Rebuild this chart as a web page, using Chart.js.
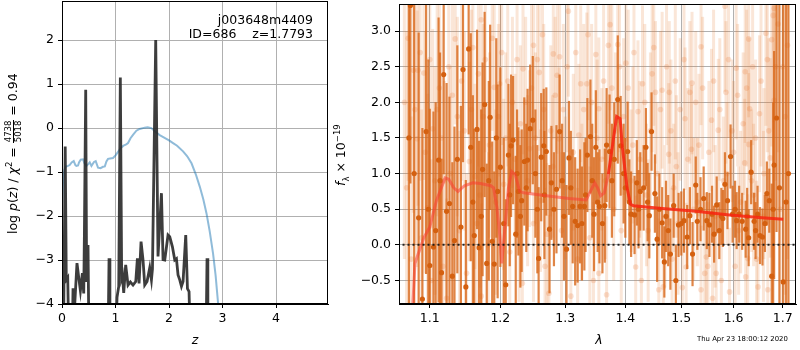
<!DOCTYPE html>
<html>
<head>
<meta charset="utf-8">
<script src="https://cdn.jsdelivr.net/npm/chart.js@4.4.1/dist/chart.umd.min.js"></script>
<style>
  body { margin: 0; background: #fff; font-family: 'DejaVu Sans', sans-serif; }
  #wrap { position: relative; width: 800px; height: 350px; overflow: hidden; }
  #pz { position: absolute; left: 0; top: 0; }
  #spek { position: absolute; left: 330px; top: 0; }
  .lbl { position: absolute; white-space: pre; font-size: 12.5px; line-height: 1; color: #000; }
  .mitte { transform: translate(-50%, -50%); }
  .rot { transform: rotate(-90deg); transform-origin: 0 0; }
  .frac { display: inline-block; vertical-align: middle; text-align: center; font-size: 8.5px; line-height: 1.05; }
  .frac span { display: block; padding: 0 1px; }
  .frac span:first-child { border-bottom: 1px solid #000; }
  sup, sub { font-size: 8.5px; line-height: 0; }
</style>
</head>
<body>
<div id="wrap">
  <canvas id="pz" width="330" height="350"></canvas>
  <canvas id="spek" width="470" height="350"></canvas>
  <div class="lbl" style="right:487px;top:14px">j003648m4409</div>
  <div class="lbl" style="right:487px;top:28px">ID=686    z=1.7793</div>
  <div class="lbl rot" data-cx="13" data-cy="153">log <i>p</i>(<i>z</i>) / <i>χ</i><sup>2</sup> = <span class="frac"><span>4738</span><span>5018</span></span> = 0.94</div>
  <div class="lbl mitte" style="left:195px;top:340px"><i>z</i></div>
  <div class="lbl rot" data-cx="341" data-cy="155"><i>f</i><sub>λ</sub> × 10<sup>−19</sup></div>
  <div class="lbl mitte" style="left:599px;top:340px"><i>λ</i></div>
  <div class="lbl" style="left:697px;top:336px;font-size:6.9px">Thu Apr 23 18:00:12 2020</div>
</div>
<script>
// p(z) panel
const zPdf = [0, 0.012, 0.03, 0.06, 0.08, 0.107, 0.13, 0.19, 0.206, 0.225, 0.28, 0.318, 0.344, 0.381, 0.406, 0.418, 0.443, 0.46, 0.486, 0.505,
  0.86, 0.879, 0.895, 1.0, 1.028, 1.06, 1.09, 1.115, 1.129, 1.153, 1.19, 1.234, 1.278, 1.327, 1.378, 1.409, 1.44, 1.477, 1.514, 1.546,
  1.589, 1.639, 1.671, 1.69, 1.751, 1.794, 1.858, 1.888, 1.92, 1.981, 2.013, 2.063, 2.107, 2.138, 2.168, 2.2, 2.232, 2.262, 2.312, 2.344,
  2.374, 2.4, 2.69, 2.71, 2.725, 3.0];
const logPdf = [-5, -3.4, -4.5, -0.42, -3.45, -3.4, -5, -5, -3.64, -4.3, -3.07, -3.45, -3.7, -3.3, -3.76, -2.47, 0.87, -3.5, -2.66, -5,
  -5, -2.96, -5, -5, -3.85, -3.6, 1.15, -3.4, -3.34, -3.75, -3.11, -3.57, -3.5, -3.57, -3.49, -2.96, -3.53, -2.58, -3.0, -3.57,
  -3.49, -3.18, -3.45, -3.2, 2.0, -2.92, -1.48, -2.99, -3.0, -2.43, -2.47, -2.7, -3.0, -2.97, -3.34, -3.45, -3.6, -3.49, -2.43, -3.65,
  -3.72, -5, -5, -2.96, -5, -5];

const zChi = [0, 0.02, 0.045, 0.069, 0.11, 0.144, 0.18, 0.219, 0.25, 0.269, 0.3, 0.318, 0.35, 0.393, 0.42, 0.456, 0.49, 0.518, 0.55, 0.598,
  0.63, 0.673, 0.72, 0.766, 0.8, 0.83, 0.86, 0.9, 0.953, 1.0, 1.047, 1.1, 1.15, 1.2, 1.234, 1.28, 1.33, 1.39, 1.45, 1.546,
  1.6, 1.67, 1.75, 1.826, 1.9, 2.0, 2.075, 2.15, 2.262, 2.34, 2.42, 2.5, 2.574, 2.64, 2.7, 2.76, 2.822, 2.87, 2.916, 2.94];
const chiKurve = [-1.75, -1.2, -0.95, -0.88, -0.86, -0.84, -0.78, -0.75, -0.84, -0.86, -0.85, -0.78, -0.72, -0.71, -0.8, -0.86, -0.82, -0.78, -0.86, -0.77,
  -0.75, -0.9, -0.91, -0.88, -0.87, -0.76, -0.7, -0.69, -0.68, -0.62, -0.54, -0.45, -0.4, -0.37, -0.34, -0.23, -0.15, -0.06, -0.02, 0.01,
  0.02, 0.0, -0.09, -0.16, -0.21, -0.28, -0.34, -0.4, -0.53, -0.64, -0.8, -1.05, -1.33, -1.62, -1.94, -2.35, -2.85, -3.35, -3.98, -4.4];

const zTicks = [0, 1, 2, 3, 4];
const pzTicks = [-4, -3, -2, -1, 0, 1, 2];

// spectrum panel: measured points (solid)
const lamPunkte = [1.072, 1.074, 1.085, 1.090, 1.095, 1.100, 1.105, 1.108, 1.112, 1.116, 1.119, 1.123, 1.127, 1.131, 1.134, 1.143, 1.146, 1.150, 1.154, 1.157,
  1.162, 1.166, 1.169, 1.174, 1.177, 1.180, 1.185, 1.188, 1.191, 1.196, 1.200, 1.208, 1.212, 1.216, 1.219, 1.223, 1.227, 1.232, 1.236, 1.241,
  1.245, 1.249, 1.258, 1.262, 1.266, 1.270, 1.275, 1.278, 1.286, 1.291, 1.302, 1.306, 1.312, 1.316, 1.320, 1.324, 1.331, 1.336, 1.341, 1.347,
  1.350, 1.356, 1.361, 1.365, 1.368, 1.373, 1.387, 1.392, 1.404, 1.410, 1.416, 1.420, 1.426, 1.432, 1.436, 1.442, 1.446, 1.452, 1.456, 1.465,
  1.469, 1.476, 1.480, 1.486, 1.490, 1.495, 1.505, 1.511, 1.516, 1.521, 1.527, 1.530, 1.542, 1.548, 1.553, 1.558, 1.562, 1.567, 1.572, 1.579,
  1.583, 1.588, 1.594, 1.598, 1.606, 1.611, 1.617, 1.624, 1.630, 1.635, 1.641, 1.648, 1.653, 1.658, 1.663, 1.667, 1.672, 1.677, 1.682, 1.687,
  1.701, 1.712,
  1.079, 1.098, 1.114, 1.138, 1.160, 1.172, 1.183, 1.194, 1.205, 1.214, 1.225, 1.230, 1.239, 1.253, 1.256, 1.267, 1.282, 1.295, 1.298, 1.309,
  1.327, 1.333, 1.344, 1.353, 1.377, 1.381, 1.397, 1.400, 1.407, 1.423, 1.439, 1.460, 1.472, 1.500, 1.536, 1.576, 1.603, 1.627, 1.644, 1.680,
  1.693, 1.707];
const flussPunkte = [1.50, 3.36, 0.38, -0.76, 1.59, -0.29, -0.03, 0.20, 1.19, -0.39, 2.39, 0.47, 0.58, -0.44, 0.06, 0.25, 2.46, -0.59, 2.75, 1.37,
  0.13, 1.62, -0.04, 1.06, 1.97, -0.26, 1.79, 0.05, -0.27, 0.75, 1.09, -0.56, 1.26, 1.39, 1.47, 0.15, 0.75, 0.62, 1.17, 1.19,
  1.63, 1.75, -0.19, 1.23, 1.39, 1.31, 0.22, 0.87, 0.78, 1.59, -0.06, 1.22, 0.54, 0.33, 0.27, 0.54, 0.54, 1.26, 1.52, 0.43,
  1.37, 0.54, 0.30, 0.55, 1.40, 1.31, 2.04, 1.39, 1.31, 0.43, 0.42, 0.87, 0.75, 0.80, 1.37, 0.41, 1.59, 0.72, 0.08, 0.31,
  -0.24, 0.20, -0.13, 0.55, -0.50, 0.28, 0.34, 0.11, 0.41, -0.13, 0.84, 0.33, 0.65, 0.34, 0.28, 0.43, 0.15, 0.56, 0.20, 0.37,
  0.85, 0.62, 1.24, 0.43, 0.34, 0.43, 0.33, 0.22, 0.10, 1.02, 0.33, 0.43, 0.13, 0.11, 0.30, 0.72, 0.62, -0.44, 1.12, 1.78,
  -0.52, 1.0,
  1.0, 0.5, 0.9, 1.2, 0.6, 0.4, 0.9, 1.5, 0.3, 0.7, 1.0, 0.4, 0.8, 1.0, 0.5, 0.7, 0.5, 0.9, 0.4, 0.8,
  0.3, 0.7, 0.9, 0.6, 0.9, 1.2, 1.0, 0.8, 0.6, 0.5, 0.6, 0.5, 0.4, 0.3, 0.5, 0.4, 0.5, 0.4, 0.2, 0.5,
  0.8, 0.6];
const fehlerPunkte = [3.0, 2.5, 2.6, 2.4, 2.0, 2.2, 1.9, 1.8, 2.0, 1.6, 1.4, 1.8, 1.5, 1.6, 1.6, 1.7, 1.3, 1.5, 1.2, 1.6,
  1.5, 1.4, 1.5, 1.5, 1.3, 1.4, 1.3, 1.4, 1.3, 1.5, 1.4, 1.2, 1.0, 1.0, 0.9, 1.1, 0.9, 1.0, 0.9, 1.0,
  0.9, 0.9, 1.0, 0.9, 0.8, 0.9, 0.9, 0.8, 0.9, 0.8, 0.9, 0.8, 0.8, 0.9, 0.8, 0.8, 0.9, 0.8, 0.8, 0.8,
  0.8, 0.8, 0.7, 0.8, 0.8, 0.8, 0.9, 0.7, 0.7, 0.6, 0.55, 0.6, 0.55, 0.6, 0.55, 0.6, 0.55, 0.55, 0.6, 0.5,
  0.5, 0.5, 0.5, 0.45, 0.5, 0.45, 0.45, 0.45, 0.4, 0.45, 0.4, 0.4, 0.45, 0.4, 0.45, 0.4, 0.4, 0.4, 0.4, 0.4,
  0.45, 0.4, 0.45, 0.4, 0.4, 0.4, 0.4, 0.4, 0.4, 0.45, 0.4, 0.4, 0.4, 0.4, 0.4, 0.45, 0.45, 1.3, 1.6, 1.6,
  4.0, 4.5,
  2.7, 2.1, 1.8, 1.6, 1.5, 1.5, 1.4, 1.4, 1.2, 1.0, 0.9, 1.0, 0.9, 0.9, 0.9, 0.9, 0.8, 0.8, 0.9, 0.8,
  0.8, 0.8, 0.8, 0.7, 0.8, 0.8, 0.7, 0.7, 0.6, 0.55, 0.55, 0.5, 0.5, 0.45, 0.45, 0.4, 0.4, 0.4, 0.4, 1.5,
  3.0, 4.5];

// second exposure (faint)
const lamBlass = [1.078, 1.083, 1.084, 1.092, 1.097, 1.104, 1.110, 1.120, 1.123, 1.131, 1.135, 1.155, 1.160, 1.163, 1.166, 1.172, 1.172, 1.191, 1.199, 1.205,
  1.230, 1.233, 1.234, 1.244, 1.250, 1.250, 1.259, 1.261, 1.264, 1.271, 1.274, 1.280, 1.281, 1.287, 1.290, 1.291, 1.300, 1.305, 1.309, 1.320,
  1.322, 1.325, 1.335, 1.337, 1.340, 1.350, 1.355, 1.355, 1.360, 1.368, 1.371, 1.374, 1.380, 1.387, 1.401, 1.410, 1.418, 1.422, 1.430, 1.440,
  1.450, 1.453, 1.459, 1.465, 1.467, 1.470, 1.477, 1.478, 1.486, 1.491, 1.507, 1.509, 1.516, 1.519, 1.520, 1.530, 1.537, 1.537, 1.547, 1.550,
  1.557, 1.559, 1.566, 1.570, 1.580, 1.583, 1.585, 1.592, 1.600, 1.605, 1.610, 1.622, 1.623, 1.624, 1.628, 1.630, 1.630, 1.632, 1.640, 1.649,
  1.652, 1.660, 1.665, 1.669, 1.674, 1.677, 1.680, 1.682, 1.682, 1.700,
  1.066, 1.069, 1.071, 1.075, 1.080, 1.087, 1.089, 1.094, 1.100, 1.102, 1.107, 1.113, 1.116, 1.118, 1.126, 1.128, 1.138, 1.141, 1.144, 1.148,
  1.151, 1.158, 1.168, 1.170, 1.175, 1.178, 1.182, 1.184, 1.188, 1.193, 1.197, 1.202, 1.208, 1.211, 1.214, 1.218, 1.222, 1.225, 1.228, 1.238,
  1.241, 1.247, 1.253, 1.256, 1.266, 1.268, 1.277, 1.284, 1.294, 1.297, 1.303, 1.313, 1.317, 1.327, 1.330, 1.343, 1.346, 1.352, 1.363, 1.366,
  1.377, 1.383, 1.390, 1.393, 1.397, 1.405, 1.413, 1.415, 1.425, 1.428, 1.434, 1.437, 1.444, 1.447, 1.456, 1.462, 1.473, 1.481, 1.483, 1.489,
  1.494, 1.498, 1.502, 1.505, 1.512, 1.523, 1.527, 1.533, 1.540, 1.544, 1.552, 1.561, 1.564, 1.573, 1.576, 1.587, 1.590, 1.597, 1.603, 1.608,
  1.614, 1.619, 1.626, 1.636, 1.638, 1.644, 1.646, 1.655, 1.661, 1.668, 1.671, 1.685, 1.690, 1.695, 1.705, 1.710];
const flussBlass = [2.45, 1.49, 2.45, 2.41, 0.52, 1.63, 1.90, 0.90, -0.75, 2.10, 2.89, 1.17, 2.77, 0.96, 0.30, 3.16, -0.72, 2.21, 2.26, 0.85,
  1.70, -0.54, 2.47, 1.35, 0.30, 2.80, 2.42, 0.62, 2.95, 0.15, -0.68, 1.10, 2.68, 2.38, 1.49, 2.64, 0.80, 3.28, -0.72, -0.20,
  1.54, 2.26, 2.26, 2.95, 0.10, 2.67, -0.40, 1.91, 1.20, -0.70, 2.80, 3.09, 0.50, 2.81, 2.55, 0.90, -0.31, 1.87, 2.26, 0.20,
  2.77, 2.14, -0.63, 2.17, -0.59, 0.40, 1.27, 2.14, 0.80, 1.10, 1.77, -0.31, 2.14, 1.34, 2.27, 0.60, 2.78, -0.63, -0.17, -0.30,
  1.75, -0.75, -0.40, 1.61, 0.90, 3.35, 2.14, -0.66, 1.30, 2.48, 0.20, 1.15, 2.43, -0.45, -0.19, 2.89, 1.41, 1.91, 0.70, -0.59,
  1.84, 0.40, 2.97, -0.63, 1.22, 2.88, 3.22, 3.32, 2.03, 2.50,
  2.0, 0.8, 2.9, -0.2, 1.9, 2.7, 0.1, 1.3, 2.6, -0.5, 0.9, 2.2, 1.5, -0.3, 2.5, 1.0, 1.8, 0.2, 2.3, 1.6,
  -0.4, 1.9, 2.4, 0.7, 1.8, 2.6, 0.0, 1.4, 2.9, 0.6, 1.8, 2.7, 1.5, 2.3, -0.1, 2.0, 1.2, 2.6, 0.4, 2.0,
  0.9, 2.2, 1.5, 2.6, 1.9, -0.3, 1.6, 2.1, 0.2, 1.9, 2.5, 1.3, 2.7, 0.6, 1.9, 2.0, -0.5, 1.5, 2.3, 0.9,
  2.2, 1.6, 2.5, 0.2, 1.8, 2.2, 1.4, 2.7, 1.2, -0.5, 2.0, 0.7, 1.6, 2.4, 1.0, 1.9, 2.5, 1.6, -0.2, 2.3,
  0.3, 1.9, -0.6, 2.6, 1.2, 0.5, 2.0, 1.4, 2.2, -0.4, 1.3, 2.3, 0.4, 1.9, -0.5, 1.0, 2.6, 1.6, -0.3, 2.1,
  0.6, 1.7, 2.2, 0.9, 2.5, 1.5, -0.2, 2.3, 1.0, 2.6, 1.6, 2.5, 3.1, 0.5, 1.8, 2.8];
const fehlerBlass = [2.0, 1.8, 1.9, 1.5, 1.6, 1.4, 1.5, 1.4, 1.4, 1.3, 1.2, 1.4, 1.3, 1.3, 1.2, 1.4, 1.3, 1.2, 1.3, 1.2,
  1.1, 1.2, 1.2, 1.1, 1.1, 1.2, 1.1, 1.0, 1.2, 1.0, 1.1, 1.0, 1.2, 1.1, 1.0, 1.1, 1.0, 1.2, 1.1, 1.0,
  1.0, 1.1, 1.0, 1.2, 1.0, 1.1, 1.0, 1.0, 1.0, 1.1, 1.1, 1.2, 1.0, 1.1, 1.1, 1.0, 1.0, 1.0, 1.1, 1.0,
  1.1, 1.0, 1.0, 1.1, 1.0, 1.0, 1.0, 1.0, 0.9, 1.0, 1.0, 0.9, 1.0, 0.9, 1.0, 0.9, 1.1, 0.9, 0.9, 0.9,
  1.0, 0.9, 0.9, 1.0, 0.9, 1.2, 1.0, 0.9, 1.0, 1.0, 0.9, 0.9, 1.0, 0.9, 0.9, 1.1, 1.0, 1.0, 1.0, 1.0,
  1.1, 1.2, 1.3, 1.3, 1.4, 1.5, 1.6, 1.6, 1.5, 2.0,
  2.2, 2.2, 2.0, 2.0, 1.9, 1.8, 1.8, 1.7, 1.6, 1.7, 1.6, 1.6, 1.5, 1.5, 1.5, 1.5, 1.4, 1.4, 1.4, 1.4,
  1.4, 1.4, 1.3, 1.3, 1.3, 1.3, 1.3, 1.3, 1.3, 1.3, 1.3, 1.3, 1.2, 1.2, 1.2, 1.2, 1.2, 1.2, 1.2, 1.2,
  1.2, 1.2, 1.2, 1.1, 1.2, 1.1, 1.2, 1.1, 1.1, 1.2, 1.2, 1.1, 1.2, 1.1, 1.2, 1.1, 1.1, 1.1, 1.1, 1.1,
  1.2, 1.1, 1.2, 1.1, 1.1, 1.1, 1.1, 1.2, 1.1, 1.0, 1.1, 1.0, 1.1, 1.1, 1.0, 1.1, 1.1, 1.0, 1.0, 1.1,
  1.0, 1.0, 1.0, 1.1, 1.0, 1.0, 1.0, 1.0, 1.0, 1.0, 1.0, 1.0, 1.0, 1.0, 1.0, 1.0, 1.1, 1.0, 1.0, 1.0,
  1.0, 1.0, 1.1, 1.0, 1.1, 1.1, 1.1, 1.2, 1.2, 1.3, 1.3, 1.6, 1.8, 2.0, 2.5, 3.0];

// best-fit template
const lamModell = [1.077, 1.080, 1.092, 1.100, 1.109, 1.121, 1.126, 1.133, 1.139, 1.148, 1.160, 1.171, 1.186, 1.190, 1.195, 1.199, 1.202, 1.206, 1.212, 1.217,
  1.222, 1.229, 1.235, 1.270, 1.306, 1.334, 1.341, 1.348, 1.353, 1.358, 1.364, 1.371, 1.379, 1.385, 1.391, 1.395, 1.403, 1.409, 1.414, 1.465,
  1.527, 1.592, 1.657, 1.701];
const flussModell = [-0.9, -0.26, 0.10, 0.25, 0.62, 0.94, 0.92, 0.80, 0.75, 0.83, 0.87, 0.86, 0.83, 0.80, 0.52, 0.15, -0.26, 0.15, 0.80, 1.03,
  0.99, 0.75, 0.73, 0.69, 0.65, 0.63, 0.75, 0.87, 0.80, 0.69, 0.73, 0.99, 1.45, 1.80, 1.77, 1.36, 0.80, 0.57, 0.55, 0.51,
  0.47, 0.42, 0.38, 0.36];

const lamTicks = [1.1, 1.2, 1.3, 1.4, 1.5, 1.6, 1.7];
const fTicks = [-0.5, 0.0, 0.5, 1.0, 1.5, 2.0, 2.5, 3.0];

Chart.defaults.font.family = "'DejaVu Sans', sans-serif";
Chart.defaults.font.size = 12.5;
Chart.defaults.color = "#000";

const minus = s => String(s).replace("-", "\u2212");
const paare = (xs, ys) => xs.map((x, i) => ({ x, y: ys[i] }));

// rotated axis titles, placed on whole pixels so they stay crisp
document.querySelectorAll(".rot").forEach(el => {
  const w = el.offsetWidth, h = el.offsetHeight;
  el.style.left = Math.round(+el.dataset.cx - h / 2) + "px";
  el.style.top = Math.round(+el.dataset.cy + w / 2) + "px";
});

const rahmen = {
  id: "rahmen",
  afterDraw(chart) {
    const { ctx, chartArea: a } = chart;
    ctx.save();
    ctx.strokeStyle = "#000";
    ctx.lineWidth = 1;
    ctx.strokeRect(a.left + 0.5, a.top + 0.5, a.right - a.left - 1, a.bottom - a.top - 1);
    ctx.restore();
  }
};

const fehlerBalken = {
  id: "fehlerBalken",
  beforeDatasetDraw(chart, args) {
    const ds = chart.data.datasets[args.index];
    if (!ds.fehler) return;
    const { ctx, chartArea: a } = chart;
    const x = chart.scales.x, y = chart.scales.y;
    ctx.save();
    ctx.beginPath();
    ctx.rect(a.left, a.top, a.right - a.left, a.bottom - a.top);
    ctx.clip();
    ctx.strokeStyle = ds.balkenFarbe;
    ctx.lineWidth = ds.balkenBreite;
    ds.data.forEach((p, i) => {
      const px = x.getPixelForValue(p.x);
      ctx.beginPath();
      ctx.moveTo(px, y.getPixelForValue(p.y - ds.fehler[i]));
      ctx.lineTo(px, y.getPixelForValue(p.y + ds.fehler[i]));
      ctx.stroke();
    });
    ctx.restore();
  }
};

const gitter = { color: "#b0b0b0", lineWidth: 1, tickColor: "#000", tickLength: 4, drawTicks: true };
const rand = { display: true, color: "#000", width: 1 };
const xFit = h => s => { s.height = h; s.paddingLeft = 0; s.paddingRight = 0; };
const yFit = w => s => { s.width = w; s.paddingTop = 0; s.paddingBottom = 0; };

new Chart(document.getElementById("pz"), {
  type: "line",
  data: {
    datasets: [
      {
        data: paare(zPdf, logPdf),
        borderColor: "rgba(40,40,40,0.9)",
        borderWidth: 2.8,
        pointRadius: 0,
        tension: 0,
        order: 0
      },
      {
        data: paare(zChi, chiKurve),
        borderColor: "rgba(31,119,180,0.5)",
        borderWidth: 2,
        pointRadius: 0,
        tension: 0,
        order: 1
      }
    ]
  },
  options: {
    responsive: false,
    animation: false,
    layout: { padding: { top: 1, right: 2, left: 0, bottom: 0 } },
    plugins: { legend: { display: false }, tooltip: { enabled: false } },
    scales: {
      x: {
        type: "linear", min: 0, max: 4.97,
        grid: gitter, border: rand,
        ticks: { padding: 3, callback: v => minus(v) },
        afterBuildTicks: s => { s.ticks = zTicks.map(value => ({ value })); },
        afterFit: xFit(46)
      },
      y: {
        type: "linear", min: -4, max: 2.89,
        grid: gitter, border: rand,
        ticks: { padding: 4, callback: v => minus(v) },
        afterBuildTicks: s => { s.ticks = pzTicks.map(value => ({ value })); },
        afterFit: yFit(62)
      }
    }
  },
  plugins: [rahmen]
});

new Chart(document.getElementById("spek"), {
  type: "scatter",
  data: {
    datasets: [
      {
        data: [{ x: 1.0, y: 0 }, { x: 1.8, y: 0 }],
        showLine: true,
        borderColor: "rgba(20,20,20,0.9)",
        borderWidth: 2,
        borderDash: [2, 3],
        pointRadius: 0,
        order: 0
      },
      {
        data: paare(lamModell, flussModell),
        showLine: true,
        borderWidth: 3,
        pointRadius: 0,
        tension: 0,
        segment: {
          borderColor: c => c.p0.parsed.x < 1.37 ? "rgba(250,60,50,0.55)" : "rgba(248,36,18,0.85)"
        },
        borderColor: "rgba(250,60,50,0.55)",
        order: 1
      },
      {
        data: paare(lamPunkte, flussPunkte),
        fehler: fehlerPunkte,
        balkenFarbe: "rgba(216,102,24,0.8)",
        balkenBreite: 2.2,
        pointRadius: 2.6,
        pointBackgroundColor: "rgb(212,96,16)",
        pointBorderWidth: 0,
        order: 2
      },
      {
        data: paare(lamBlass, flussBlass),
        fehler: fehlerBlass,
        balkenFarbe: "rgba(230,120,50,0.19)",
        balkenBreite: 3,
        pointRadius: 2.8,
        pointBackgroundColor: "rgba(230,120,50,0.22)",
        pointBorderWidth: 0,
        order: 3
      }
    ]
  },
  options: {
    responsive: false,
    animation: false,
    layout: { padding: { top: 1, right: 1, left: 0, bottom: 0 } },
    plugins: { legend: { display: false }, tooltip: { enabled: false } },
    scales: {
      x: {
        type: "logarithmic", min: 1.059, max: 1.728,
        grid: gitter, border: rand,
        ticks: { padding: 3, callback: v => Number(v).toFixed(1) },
        afterBuildTicks: s => { s.ticks = lamTicks.map(value => ({ value })); },
        afterFit: xFit(46)
      },
      y: {
        type: "linear", min: -0.83, max: 3.38,
        grid: gitter, border: rand,
        ticks: { padding: 4, callback: v => minus(Number(v).toFixed(1)) },
        afterBuildTicks: s => { s.ticks = fTicks.map(value => ({ value })); },
        afterFit: yFit(69)
      }
    }
  },
  plugins: [fehlerBalken, rahmen]
});
</script>
</body>
</html>
